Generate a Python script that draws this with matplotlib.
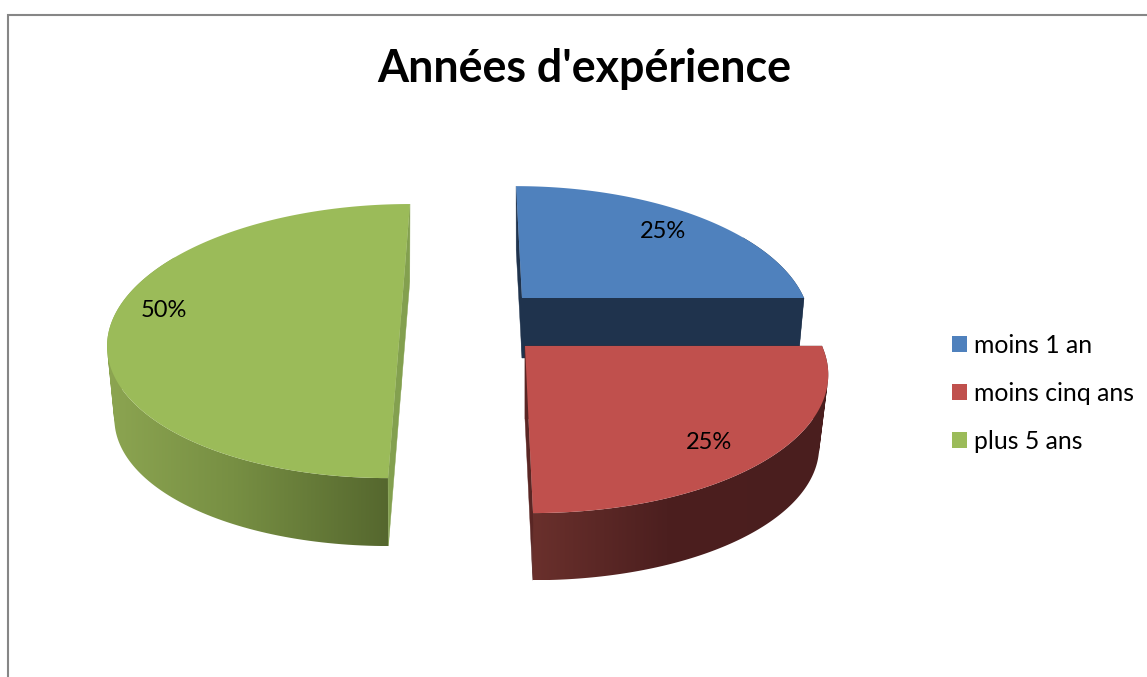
#!/usr/bin/env python3
"""Exploded 3D-look pie chart: years of experience."""
import numpy as np
import matplotlib
matplotlib.use('Agg')
import matplotlib.pyplot as plt
from matplotlib.colors import to_rgb
from matplotlib.patches import Patch, PathPatch, Polygon
from matplotlib.path import Path

# Data
TITLE = "Années d'expérience"
CATEGORIES = ['moins 1 an', 'moins cinq ans', 'plus 5 ans']
VALUES = [25, 25, 50]
PERCENT_LABELS = ['25%', '25%', '50%']

# Colours
TOP_COLORS = ['#4f81bd', '#c0504d', '#9bbb59']
CUT_COLORS = ['#1f334d', '#5a2624', '#83a04f']
RIM_LEFT = ['#1f334d', '#6a302c', '#8ca551']
RIM_MID = ['#1f334d', '#4c1f1f', '#778f43']
RIM_RIGHT = ['#1f334d', '#4a1e1e', '#55672e']

# Layout in image pixels: apex x, apex y, radius x, radius y, skew, depth
GEOMETRY = [
    (522, 298, 282, 132, 7, 60),
    (525, 346, 297, 137, 6.6, 73),
    (401, 316.4, 287, 132.6, -10.6, 73.6),
]
BOTTOM_SCALE_X = [0.98, 0.97, 0.975]
BOTTOM_SCALE_Y = 0.965
LABEL_POS = [(663, 230), (709, 441), (164, 309)]
PERSPECTIVE = 0.18


def project(i, theta, bottom=False):
    """Map clockwise-from-top angles (and radius 1) onto the tilted disc."""
    cx, cy, a, b, skew, depth = GEOMETRY[i]
    u = np.sin(theta)
    v = -np.cos(theta)
    w = 1 - PERSPECTIVE * v
    scale_x = BOTTOM_SCALE_X[i] if bottom else 1.0
    scale_y = BOTTOM_SCALE_Y if bottom else 1.0
    x = cx + scale_x * (a * u + skew * v) / w
    y = cy + scale_y * b * v / w + (depth if bottom else 0)
    return np.column_stack([x, y])


def rim_clip_path(top, low):
    """Union of the wall quads, all wound the same way so none cancel out."""
    paths = []
    for n in range(len(top) - 1):
        quad = np.array([top[n], top[n + 1], low[n + 1], low[n], top[n]])
        area = np.sum(quad[:-1, 0] * quad[1:, 1] - quad[1:, 0] * quad[:-1, 1])
        if area < 0:
            quad = quad[::-1]
        paths.append(Path(quad))
    return Path.make_compound_path(*paths)


def draw_rim(ax, i, theta, base_z):
    """Outer wall as a horizontal gradient clipped to the wall outline."""
    # the far part of the wall stays behind the top face
    near = theta[-np.cos(theta) > -0.5]
    if len(near) < 2:
        return
    top = project(i, near)
    low = project(i, near, bottom=True)
    both = np.vstack([top, low])

    stops = [0, 0.45, 1]
    pos = np.linspace(0, 1, 256)
    left, mid, right = to_rgb(RIM_LEFT[i]), to_rgb(RIM_MID[i]), to_rgb(RIM_RIGHT[i])
    grad = np.stack([np.interp(pos, stops, [left[c], mid[c], right[c]]) for c in range(3)], axis=-1)

    im = ax.imshow(grad[np.newaxis, :, :], aspect='auto', interpolation='bilinear', zorder=base_z,
                   extent=(both[:, 0].min(), both[:, 0].max(), both[:, 1].max(), both[:, 1].min()))
    clip = PathPatch(rim_clip_path(top, low), transform=ax.transData)
    im.set_clip_path(clip)


def draw_slice(ax, i, start, end, base_z):
    cx, cy, depth = GEOMETRY[i][0], GEOMETRY[i][1], GEOMETRY[i][5]
    theta = np.linspace(start, end, 160)
    top = project(i, theta)
    low = project(i, theta, bottom=True)
    apex = np.array([cx, cy])
    apex_low = np.array([cx, cy + depth])

    draw_rim(ax, i, theta, base_z)

    # straight cut faces
    for j in (0, -1):
        face = [apex, top[j], low[j], apex_low]
        ax.add_patch(Polygon(face, closed=True, fc=CUT_COLORS[i], ec=CUT_COLORS[i], lw=0.3, zorder=base_z + 1))

    # top face
    ax.add_patch(Polygon(np.vstack([apex, top]), closed=True, fc=TOP_COLORS[i], ec='none', zorder=base_z + 2))


plt.rcParams['font.family'] = ['Lato', 'DejaVu Sans']

fig = plt.figure(figsize=(11.47, 6.77), dpi=100)
ax = fig.add_axes([0, 0, 1, 1])
ax.axis('off')

# chart frame, only top and left are visible in the crop
ax.plot([1147, 8, 8], [14.5, 14.5, 677], color='#868686', lw=1.5, solid_joinstyle='miter')

fractions = np.cumsum([0] + VALUES) / sum(VALUES) * 2 * np.pi
for n, i in enumerate([2, 0, 1]):
    draw_slice(ax, i, fractions[i], fractions[i + 1], 10 + n * 10)

# imshow changes the limits, so set them last
ax.set_xlim(0, 1147)
ax.set_ylim(677, 0)

for label, (x, y) in zip(PERCENT_LABELS, LABEL_POS):
    ax.text(x, y + 1.5, label, ha='center', va='center', fontsize=17, color='black', zorder=50)

ax.text(584.5, 68.5, TITLE, ha='center', va='center', fontsize=32.2, fontweight='bold', color='black')

handles = [Patch(facecolor=c, edgecolor='none') for c in TOP_COLORS]
ax.legend(handles, CATEGORIES, loc='upper left', bbox_to_anchor=(952 / 1147, 1 - 334 / 677),
          frameon=False, fontsize=17.8, handlelength=0.607, handleheight=0.607,
          handletextpad=0.28, labelspacing=1.01, borderpad=0, borderaxespad=0)

fig.savefig('out.png', dpi=100)
